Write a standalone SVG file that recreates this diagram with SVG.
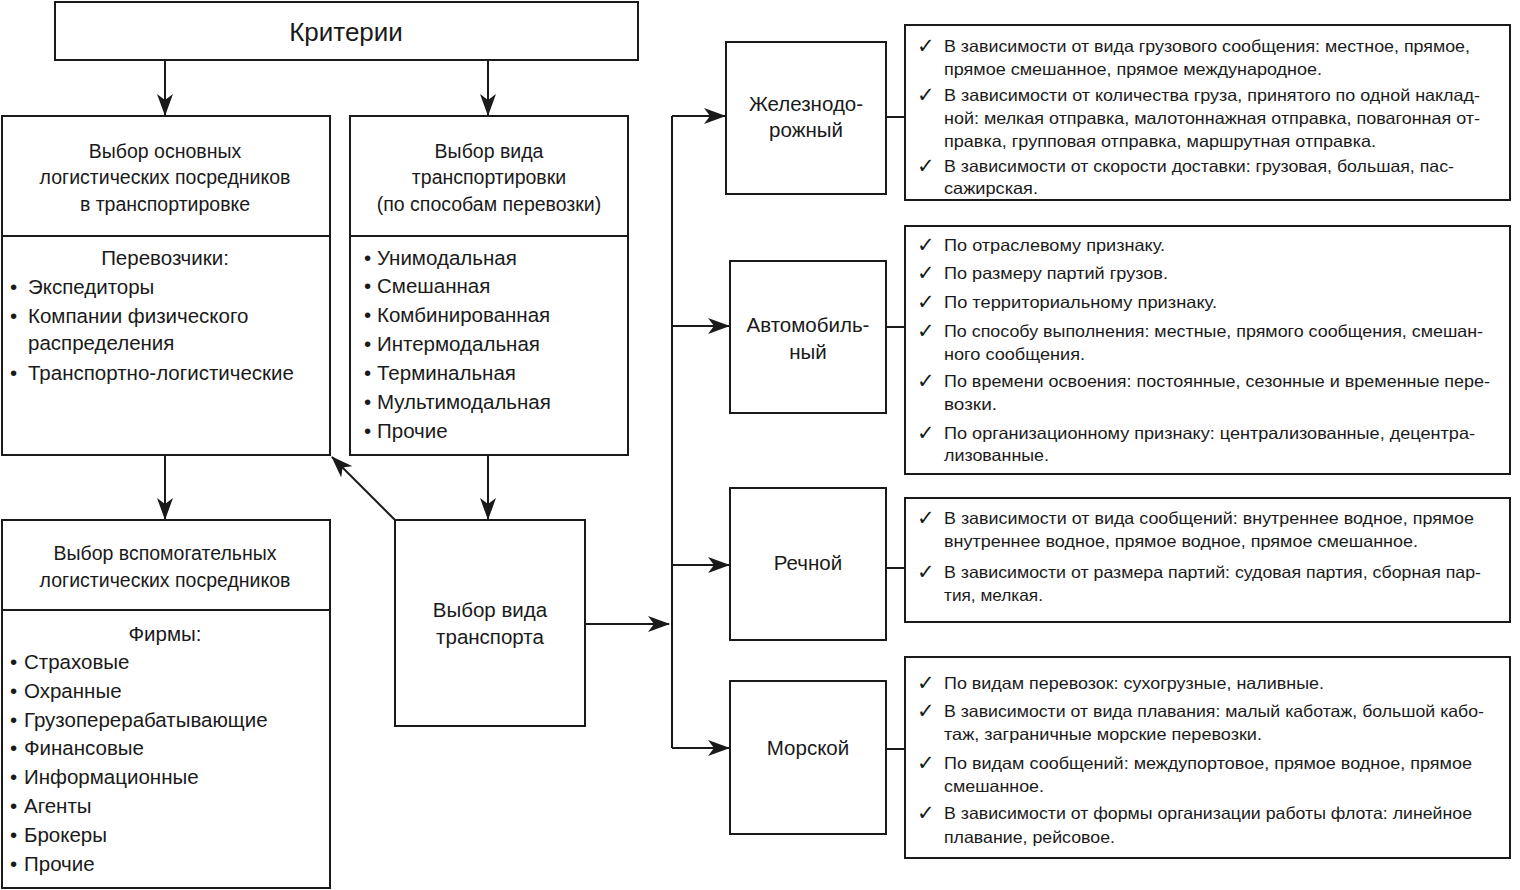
<svg xmlns="http://www.w3.org/2000/svg" width="1520" height="890" viewBox="0 0 1520 890">
<defs>
<marker id="ah" viewBox="0 0 22 16" markerWidth="22" markerHeight="16" refX="21" refY="8" orient="auto" markerUnits="userSpaceOnUse">
<path d="M0,0 L22,8 L0,16 L6,8 z" fill="#1a1a1a"/>
</marker>
</defs>
<style>
rect.n,line.div{fill:#fff;stroke:#1a1a1a;stroke-width:2}
.c line,.c path{stroke:#1a1a1a;stroke-width:2;fill:none}
text{font-family:"Liberation Sans",Arial,sans-serif;fill:#1a1a1a}
.h{font-size:19.5px;text-anchor:middle}
.t{font-size:20.5px;text-anchor:middle}
.b{font-size:20.5px}
.r{font-size:16.5px}
.k{font-family:"DejaVu Sans",sans-serif;font-size:21px}
</style>
<rect width="1520" height="890" fill="#fff"/>

<g id="criteria">
<rect class="n" x="55" y="2" width="583" height="58"/>
<text x="346" y="41" style="font-size:26px;text-anchor:middle">Критерии</text>
</g>

<g id="main-intermediaries">
<rect class="n" x="2" y="116" width="328" height="339"/>
<line class="div" x1="2" y1="236" x2="330" y2="236"/>
<text class="h" x="165" y="158">Выбор основных</text>
<text class="h" x="165" y="184">логистических посредников</text>
<text class="h" x="165" y="211">в транспортировке</text>
<text class="t" x="165" y="265">Перевозчики:</text>
<text class="b" x="10" y="294">•</text><text class="b" x="28" y="294">Экспедиторы</text>
<text class="b" x="10" y="323">•</text><text class="b" x="28" y="323">Компании физического</text>
<text class="b" x="28" y="350">распределения</text>
<text class="b" x="10" y="380">•</text><text class="b" x="28" y="380">Транспортно-логистические</text>
</g>

<g id="transportation-mode">
<rect class="n" x="350" y="116" width="278" height="339"/>
<line class="div" x1="350" y1="236" x2="628" y2="236"/>
<text class="h" x="489" y="158">Выбор вида</text>
<text class="h" x="489" y="184">транспортировки</text>
<text class="h" x="489" y="211">(по способам перевозки)</text>
<text class="b" x="364" y="265">•</text><text class="b" x="377" y="265">Унимодальная</text>
<text class="b" x="364" y="293">•</text><text class="b" x="377" y="293">Смешанная</text>
<text class="b" x="364" y="322">•</text><text class="b" x="377" y="322">Комбинированная</text>
<text class="b" x="364" y="351">•</text><text class="b" x="377" y="351">Интермодальная</text>
<text class="b" x="364" y="380">•</text><text class="b" x="377" y="380">Терминальная</text>
<text class="b" x="364" y="409">•</text><text class="b" x="377" y="409">Мультимодальная</text>
<text class="b" x="364" y="438">•</text><text class="b" x="377" y="438">Прочие</text>
</g>

<g id="auxiliary-intermediaries">
<rect class="n" x="2" y="520" width="328" height="368"/>
<line class="div" x1="2" y1="610" x2="330" y2="610"/>
<text class="h" x="165" y="560">Выбор вспомогательных</text>
<text class="h" x="165" y="587">логистических посредников</text>
<text class="t" x="165" y="641">Фирмы:</text>
<text class="b" x="10" y="669">•</text><text class="b" x="24" y="669">Страховые</text>
<text class="b" x="10" y="698">•</text><text class="b" x="24" y="698">Охранные</text>
<text class="b" x="10" y="727">•</text><text class="b" x="24" y="727">Грузоперерабатывающие</text>
<text class="b" x="10" y="755">•</text><text class="b" x="24" y="755">Финансовые</text>
<text class="b" x="10" y="784">•</text><text class="b" x="24" y="784">Информационные</text>
<text class="b" x="10" y="813">•</text><text class="b" x="24" y="813">Агенты</text>
<text class="b" x="10" y="842">•</text><text class="b" x="24" y="842">Брокеры</text>
<text class="b" x="10" y="871">•</text><text class="b" x="24" y="871">Прочие</text>
</g>

<g id="transport-type">
<rect class="n" x="395" y="520" width="190" height="206"/>
<text class="t" x="490" y="617">Выбор вида</text>
<text class="t" x="490" y="644">транспорта</text>
</g>

<g id="rail">
<rect class="n" x="726" y="42" width="160" height="152"/>
<text class="t" x="806" y="111">Железнодо-</text>
<text class="t" x="806" y="137">рожный</text>
</g>
<g id="rail-details">
<rect class="n" x="905" y="25" width="605" height="175"/>
<text class="k" x="917" y="53">✓</text><text class="r" x="944" y="52" textLength="526" lengthAdjust="spacingAndGlyphs">В зависимости от вида грузового сообщения: местное, прямое,</text>
<text class="r" x="944" y="75" textLength="378" lengthAdjust="spacingAndGlyphs">прямое смешанное, прямое международное.</text>
<text class="k" x="917" y="102">✓</text><text class="r" x="944" y="101" textLength="536" lengthAdjust="spacingAndGlyphs">В зависимости от количества груза, принятого по одной наклад-</text>
<text class="r" x="944" y="124" textLength="536" lengthAdjust="spacingAndGlyphs">ной: мелкая отправка, малотоннажная отправка, повагонная от-</text>
<text class="r" x="944" y="147" textLength="432" lengthAdjust="spacingAndGlyphs">правка, групповая отправка, маршрутная отправка.</text>
<text class="k" x="917" y="173">✓</text><text class="r" x="944" y="172" textLength="510" lengthAdjust="spacingAndGlyphs">В зависимости от скорости доставки: грузовая, большая, пас-</text>
<text class="r" x="944" y="194" textLength="94" lengthAdjust="spacingAndGlyphs">сажирская.</text>
</g>

<g id="auto">
<rect class="n" x="730" y="261" width="156" height="152"/>
<text class="t" x="808" y="332">Автомобиль-</text>
<text class="t" x="808" y="359">ный</text>
</g>
<g id="auto-details">
<rect class="n" x="905" y="226" width="605" height="248"/>
<text class="k" x="917" y="252">✓</text><text class="r" x="944" y="251" textLength="221" lengthAdjust="spacingAndGlyphs">По отраслевому признаку.</text>
<text class="k" x="917" y="280">✓</text><text class="r" x="944" y="279" textLength="224" lengthAdjust="spacingAndGlyphs">По размеру партий грузов.</text>
<text class="k" x="917" y="309">✓</text><text class="r" x="944" y="308" textLength="273" lengthAdjust="spacingAndGlyphs">По территориальному признаку.</text>
<text class="k" x="917" y="338">✓</text><text class="r" x="944" y="337" textLength="539" lengthAdjust="spacingAndGlyphs">По способу выполнения: местные, прямого сообщения, смешан-</text>
<text class="r" x="944" y="360" textLength="141" lengthAdjust="spacingAndGlyphs">ного сообщения.</text>
<text class="k" x="917" y="388">✓</text><text class="r" x="944" y="387" textLength="546" lengthAdjust="spacingAndGlyphs">По времени освоения: постоянные, сезонные и временные пере-</text>
<text class="r" x="944" y="410" textLength="53" lengthAdjust="spacingAndGlyphs">возки.</text>
<text class="k" x="917" y="440">✓</text><text class="r" x="944" y="439" textLength="531" lengthAdjust="spacingAndGlyphs">По организационному признаку: централизованные, децентра-</text>
<text class="r" x="944" y="461" textLength="105" lengthAdjust="spacingAndGlyphs">лизованные.</text>
</g>

<g id="river">
<rect class="n" x="730" y="488" width="156" height="152"/>
<text class="t" x="808" y="570">Речной</text>
</g>
<g id="river-details">
<rect class="n" x="905" y="498" width="605" height="124"/>
<text class="k" x="917" y="525">✓</text><text class="r" x="944" y="524" textLength="530" lengthAdjust="spacingAndGlyphs">В зависимости от вида сообщений: внутреннее водное, прямое</text>
<text class="r" x="944" y="547" textLength="474" lengthAdjust="spacingAndGlyphs">внутреннее водное, прямое водное, прямое смешанное.</text>
<text class="k" x="917" y="579">✓</text><text class="r" x="944" y="578" textLength="537" lengthAdjust="spacingAndGlyphs">В зависимости от размера партий: судовая партия, сборная пар-</text>
<text class="r" x="944" y="601" textLength="99" lengthAdjust="spacingAndGlyphs">тия, мелкая.</text>
</g>

<g id="sea">
<rect class="n" x="730" y="681" width="156" height="153"/>
<text class="t" x="808" y="755">Морской</text>
</g>
<g id="sea-details">
<rect class="n" x="905" y="657" width="605" height="201"/>
<text class="k" x="917" y="690">✓</text><text class="r" x="944" y="689" textLength="380" lengthAdjust="spacingAndGlyphs">По видам перевозок: сухогрузные, наливные.</text>
<text class="k" x="917" y="718">✓</text><text class="r" x="944" y="717" textLength="540" lengthAdjust="spacingAndGlyphs">В зависимости от вида плавания: малый каботаж, большой кабо-</text>
<text class="r" x="944" y="740" textLength="318" lengthAdjust="spacingAndGlyphs">таж, заграничные морские перевозки.</text>
<text class="k" x="917" y="770">✓</text><text class="r" x="944" y="769" textLength="528" lengthAdjust="spacingAndGlyphs">По видам сообщений: междупортовое, прямое водное, прямое</text>
<text class="r" x="944" y="792" textLength="100" lengthAdjust="spacingAndGlyphs">смешанное.</text>
<text class="k" x="917" y="820">✓</text><text class="r" x="944" y="819" textLength="528" lengthAdjust="spacingAndGlyphs">В зависимости от формы организации работы флота: линейное</text>
<text class="r" x="944" y="843" textLength="171" lengthAdjust="spacingAndGlyphs">плавание, рейсовое.</text>
</g>

<g id="connectors" class="c">
<line x1="165" y1="60" x2="165" y2="115" marker-end="url(#ah)"/>
<line x1="488" y1="60" x2="488" y2="115" marker-end="url(#ah)"/>
<line x1="165" y1="455" x2="165" y2="519" marker-end="url(#ah)"/>
<line x1="488" y1="455" x2="488" y2="519" marker-end="url(#ah)"/>
<line x1="395" y1="520" x2="332" y2="457" marker-end="url(#ah)"/>
<line x1="585" y1="624" x2="669" y2="624" marker-end="url(#ah)"/>
<path d="M672,116 L672,748"/>
<line x1="672" y1="116" x2="725" y2="116" marker-end="url(#ah)"/>
<line x1="672" y1="326" x2="729" y2="326" marker-end="url(#ah)"/>
<line x1="672" y1="565" x2="729" y2="565" marker-end="url(#ah)"/>
<line x1="672" y1="748" x2="729" y2="748" marker-end="url(#ah)"/>
<line x1="886" y1="117" x2="905" y2="117"/>
<line x1="886" y1="327" x2="905" y2="327"/>
<line x1="886" y1="568" x2="905" y2="568"/>
<line x1="886" y1="749" x2="905" y2="749"/>
</g>
</svg>
